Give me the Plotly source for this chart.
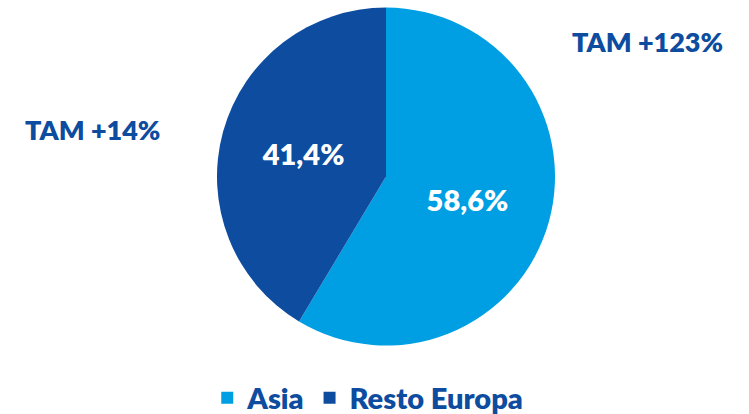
import plotly.graph_objects as go

regions = ["Asia", "Resto Europa"]
shares = [58.6, 41.4]
share_labels = ["58,6%", "41,4%"]
growth_labels = ["TAM +123%", "TAM +14%"]

ASIA_BLUE = "#009fe3"
DARK_BLUE = "#0d4c9f"
FONT = "Lato"

fig = go.Figure(
    go.Pie(
        labels=regions,
        values=shares,
        text=share_labels,
        textinfo="text",
        textposition="inside",
        insidetextfont=dict(family=FONT, size=29, color="white", weight=800),
        sort=False,
        direction="clockwise",
        rotation=0,
        marker=dict(colors=[ASIA_BLUE, DARK_BLUE], line=dict(width=0)),
        domain=dict(x=[0.2897, 0.741], y=[0.164, 0.983]),
        hoverinfo="label+percent",
    )
)

# growth notes, one per region
for text, x, y in [(growth_labels[0], 0.865, 0.899), (growth_labels[1], 0.124, 0.686)]:
    fig.add_annotation(
        x=x, y=y, xref="paper", yref="paper",
        xanchor="center", yanchor="middle",
        text=text, showarrow=False,
        font=dict(family=FONT, size=27, color=DARK_BLUE, weight=800),
    )

fig.update_layout(
    width=749,
    height=414,
    margin=dict(l=0, r=0, t=0, b=0, autoexpand=False),
    paper_bgcolor="white",
    plot_bgcolor="white",
    showlegend=True,
    legend=dict(
        orientation="h",
        x=0.491,
        xanchor="center",
        y=0.039,
        yanchor="middle",
        font=dict(family=FONT, size=29, color=DARK_BLUE, weight=800),
        itemwidth=30,
        traceorder="normal",
    ),
)

# drop the default page margin so the figure sits at the window's corner
fig.write_html(
    "out.html",
    config={"displayModeBar": False},
    post_script="document.body.style.margin = '0';",
)
